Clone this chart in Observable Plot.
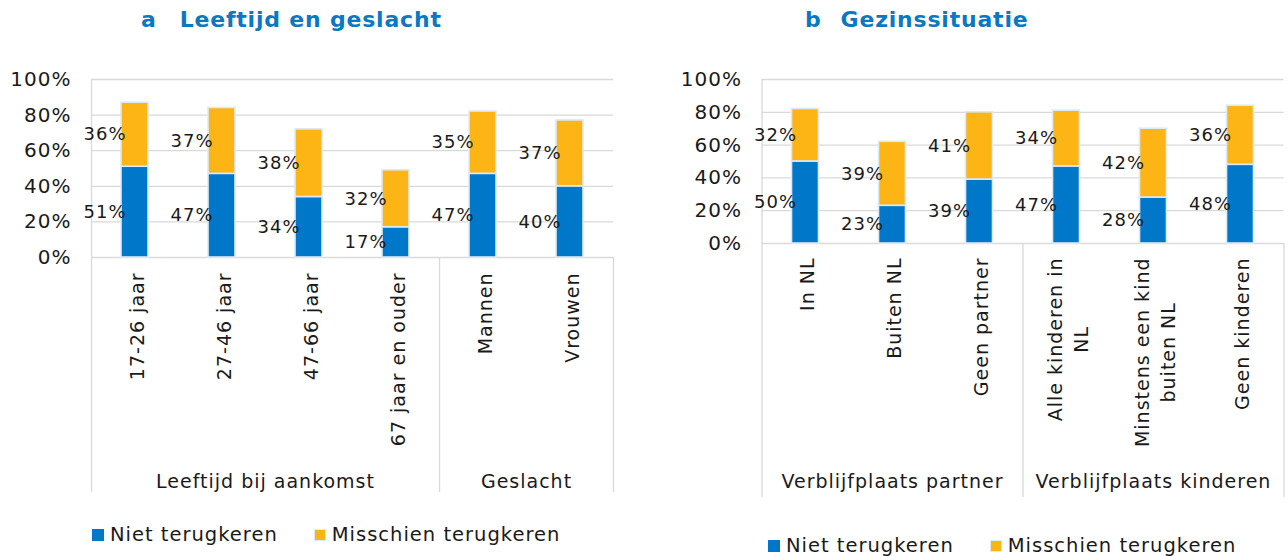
<!DOCTYPE html>
<html><head><meta charset="utf-8">
<script src="https://cdn.jsdelivr.net/npm/d3@7"></script>
<script src="https://cdn.jsdelivr.net/npm/@observablehq/plot@0.6"></script>
<style>
body{margin:0;background:#fff;font-family:"DejaVu Sans",Verdana,sans-serif;}
#root{position:relative;width:1288px;height:556px;overflow:hidden;background:#fff}
.panel{position:absolute;top:0;}
.panel svg{overflow:visible;font-family:"DejaVu Sans",Verdana,sans-serif}
.panel svg text{letter-spacing:1px}
.title{position:absolute;top:6px;font-weight:bold;color:#0A78C4;font-size:22px;letter-spacing:0.8px;white-space:nowrap;line-height:28px}
.legend{position:absolute;font-size:19.5px;letter-spacing:1px;color:#1a1a1a;display:flex;align-items:center;white-space:nowrap;line-height:26px}
.legend .item{display:flex;align-items:center}
.sw{display:inline-block;width:12px;height:12px;margin-right:6px;box-sizing:border-box}
</style></head>
<body><div id="root"></div>
<script>
// ---- data ----
const seriesNames = ["Niet terugkeren", "Misschien terugkeren"];
const seriesColors = ["#0077C8", "#FDB515"];
const yTicks = [0, 20, 40, 60, 80, 100];

const titleA = ["a", "Leeftijd en geslacht"];
const catsA = ["17-26 jaar", "27-46 jaar", "47-66 jaar", "67 jaar en ouder", "Mannen", "Vrouwen"];
const groupsA = ["Leeftijd bij aankomst", "Leeftijd bij aankomst", "Leeftijd bij aankomst", "Leeftijd bij aankomst", "Geslacht", "Geslacht"];
const nietA = [51, 47, 34, 17, 47, 40];
const misschienA = [36, 37, 38, 32, 35, 37];

const titleB = ["b", "Gezinssituatie"];
const catsB = ["In NL", "Buiten NL", "Geen partner", "Alle kinderen in\nNL", "Minstens een kind\nbuiten NL", "Geen kinderen"];
const groupsB = ["Verblijfplaats partner", "Verblijfplaats partner", "Verblijfplaats partner", "Verblijfplaats kinderen", "Verblijfplaats kinderen", "Verblijfplaats kinderen"];
const nietB = [50, 23, 39, 47, 28, 48];
const misschienB = [32, 39, 41, 34, 42, 36];

// ---- helpers ----
const AXIS_FS = 20, TICK_FS = 19, LABEL_FS = 18, TEXT = "#1a1a1a", GRID = "#D9D9D9";
const ctx = document.createElement("canvas").getContext("2d");
ctx.font = `${TICK_FS}px "DejaVu Sans"`;
const textW = s => Math.max(...s.split("\n").map(l => ctx.measureText(l).width + l.length));

function panel(cfg) {
  const {cats, groups, niet, mis, width, height, mL, mR, mT, mB, sepLen, groupDy, pad} = cfg;
  const n = cats.length, half = 0.155;
  const rows = cats.flatMap((c, i) => [
    {i, series: seriesNames[0], y1: 0, y2: niet[i], v: niet[i]},
    {i, series: seriesNames[1], y1: niet[i], y2: niet[i] + mis[i], v: mis[i]}
  ]);
  const gNames = [...new Set(groups)];
  const gInfo = gNames.map(g => {
    const idx = groups.map((x, i) => x === g ? i : -1).filter(i => i >= 0);
    return {name: g, start: idx[0], end: idx[idx.length - 1]};
  });
  const bounds = [-0.5, ...gInfo.map(g => g.end + 0.5)];
  const tickMarks = cats.map((c, i) => Plot.text([i], {
    x: d => d, y: () => 0, text: () => c, rotate: -90,
    textAnchor: "middle", lineAnchor: "middle", lineHeight: 1.4,
    dy: pad + textW(c) / 2, fontSize: TICK_FS, fill: TEXT
  }));
  return Plot.plot({
    width, height, marginLeft: mL, marginRight: mR, marginTop: mT, marginBottom: mB,
    x: {domain: [-0.5, n - 0.5], axis: null},
    y: {domain: [0, 100], axis: null},
    color: {domain: seriesNames, range: seriesColors},
    marks: [
      Plot.ruleY(yTicks, {stroke: GRID, strokeWidth: 1.3}),
      Plot.ruleX([-0.5], {stroke: GRID, strokeWidth: 1.3}),
      Plot.ruleX(bounds, {x: d => d, y1: () => 0, y2: () => 0, insetBottom: -sepLen, stroke: GRID, strokeWidth: 1.3}),
      Plot.axisY({ticks: yTicks, tickFormat: d => d + "%", tickSize: 0, tickPadding: 20, fontSize: AXIS_FS, label: null, fill: TEXT}),
      Plot.rectY(rows, {x1: d => d.i - half, x2: d => d.i + half, y1: "y1", y2: "y2", fill: "series", stroke: "#DCEAF7", strokeWidth: 1.6}),
      Plot.text(rows, {x: d => d.i - half, y: d => (d.y1 + d.y2) / 2, text: d => d.v + "%", textAnchor: "end", dx: 5, fontSize: LABEL_FS, fill: TEXT}),
      ...tickMarks,
      Plot.text(gInfo, {x: g => (g.start + g.end) / 2, y: () => 0, text: "name", dy: groupDy, fontSize: TICK_FS, fill: TEXT})
    ]
  });
}

function legend(left, top) {
  const div = document.createElement("div");
  div.className = "legend";
  div.style.left = left + "px"; div.style.top = top + "px";
  seriesNames.forEach((s, k) => {
    const it = document.createElement("span");
    it.className = "item";
    if (k > 0) it.style.marginLeft = "36px";
    const sw = document.createElement("span");
    sw.className = "sw";
    sw.style.background = seriesColors[k];
    if (k > 0) sw.style.border = "1.5px solid #DCEAF7";
    it.appendChild(sw);
    it.appendChild(document.createTextNode(s));
    div.appendChild(it);
  });
  return div;
}

function title(t, left, gap) {
  const div = document.createElement("div");
  div.className = "title";
  div.style.left = left + "px";
  div.innerHTML = `<span>${t[0]}</span><span style="margin-left:${gap}px">${t[1]}</span>`;
  return div;
}

const root = document.getElementById("root");

const pa = document.createElement("div"); pa.className = "panel"; pa.style.left = "0px";
pa.appendChild(panel({cats: catsA, groups: groupsA, niet: nietA, mis: misschienA,
  width: 640, height: 500, mL: 91, mR: 27, mT: 79, mB: 243, sepLen: 235, groupDy: 224, pad: 15}));
root.appendChild(pa);

const pb = document.createElement("div"); pb.className = "panel"; pb.style.left = "640px";
pb.appendChild(panel({cats: catsB, groups: groupsB, niet: nietB, mis: misschienB,
  width: 648, height: 500, mL: 121.5, mR: 4.5, mT: 79, mB: 257, sepLen: 254, groupDy: 238, pad: 14}));
root.appendChild(pb);

root.appendChild(title(titleA, 141, 23));
root.appendChild(title(titleB, 805, 19));
root.appendChild(legend(92, 522));
root.appendChild(legend(768, 533));
</script>
</body></html>
